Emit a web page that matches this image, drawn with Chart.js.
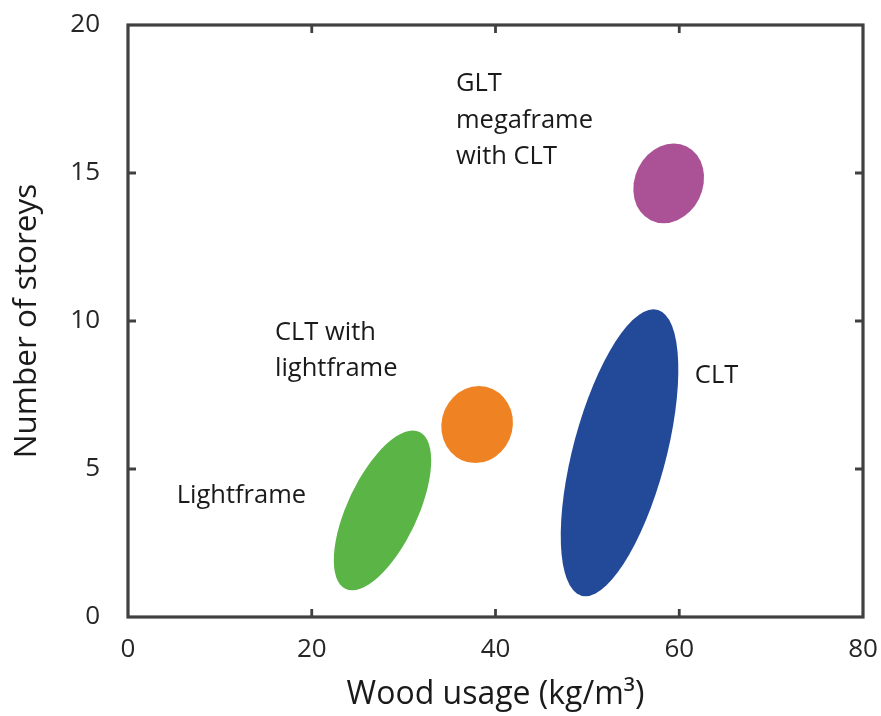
<!DOCTYPE html>
<html>
<head>
<meta charset="utf-8">
<script src="https://cdn.jsdelivr.net/npm/chart.js@4"></script>
<style>
  html, body { margin: 0; padding: 0; background: #ffffff; }
  #wrap { width: 881px; height: 716px; }
</style>
</head>
<body>
<div id="wrap"><canvas id="c" width="881" height="716"></canvas></div>
<script>
// ---- data ----
const regionNames = ['Lightframe', 'CLT with lightframe', 'CLT', 'GLT megaframe with CLT'];
const woodMin = [22.4, 34.1, 47.1, 55.0];          // kg/m3
const woodMax = [33.0, 41.9, 59.9, 62.7];          // kg/m3
const storeysMin = [0.9, 5.2, 0.7, 13.3];
const storeysMax = [6.3, 7.8, 10.4, 16.0];
const woodAtMaxStoreys = [31.0, 38.2, 57.2, 59.4]; // wood usage where the region peaks
const regionColors = ['#5bb446', '#ef8323', '#224a99', '#ab5297'];

const labelLines = [['Lightframe'], ['CLT with', 'lightframe'], ['CLT'], ['GLT', 'megaframe', 'with CLT']];
const labelWood = [5.3, 16.0, 61.7, 35.7];
const labelStoreys = [3.84, 9.36, 7.92, 17.77];

const xTicks = [0, 20, 40, 60, 80];
const yTicks = [0, 5, 10, 15, 20];

const FONT = "'Open Sans', 'DejaVu Sans', sans-serif";
const AXIS = '#404040';

const regionPlugin = {
  id: 'regions',
  beforeDatasetsDraw(chart) {
    const ctx = chart.ctx, xs = chart.scales.x, ys = chart.scales.y;
    regionNames.forEach((name, i) => {
      const px0 = xs.getPixelForValue(woodMin[i]);
      const px1 = xs.getPixelForValue(woodMax[i]);
      const pyTop = ys.getPixelForValue(storeysMax[i]);
      const pyBot = ys.getPixelForValue(storeysMin[i]);
      const cx = (px0 + px1) / 2, cy = (pyTop + pyBot) / 2;
      const W = (px1 - px0) / 2, H = (pyBot - pyTop) / 2;
      const dx = xs.getPixelForValue(woodAtMaxStoreys[i]) - cx;
      const L = Math.sqrt(Math.max(W * W - dx * dx, 1));
      ctx.save();
      ctx.translate(cx, cy);
      ctx.transform(L, 0, dx, -H, 0, 0);
      ctx.beginPath();
      ctx.arc(0, 0, 1, 0, Math.PI * 2);
      ctx.restore();
      ctx.fillStyle = regionColors[i];
      ctx.fill();
    });
    // labels
    ctx.save();
    ctx.fillStyle = '#1a1a1a';
    ctx.font = '25.5px ' + FONT;
    ctx.textAlign = 'left';
    ctx.textBaseline = 'alphabetic';
    labelLines.forEach((lines, i) => {
      const x = xs.getPixelForValue(labelWood[i]);
      const y = ys.getPixelForValue(labelStoreys[i]);
      lines.forEach((t, k) => ctx.fillText(t, x, y + k * 36.5));
    });
    ctx.restore();
  },
  afterDraw(chart) {
    const ctx = chart.ctx, a = chart.chartArea, xs = chart.scales.x, ys = chart.scales.y;
    ctx.save();
    ctx.strokeStyle = AXIS;
    ctx.lineWidth = 2.8;
    const tl = 8;
    ctx.beginPath();
    xTicks.forEach(v => {
      if (v === xTicks[0] || v === xTicks[xTicks.length - 1]) return;
      const x = xs.getPixelForValue(v);
      ctx.moveTo(x, a.bottom); ctx.lineTo(x, a.bottom - tl);
      ctx.moveTo(x, a.top); ctx.lineTo(x, a.top + tl);
    });
    yTicks.forEach(v => {
      if (v === yTicks[0] || v === yTicks[yTicks.length - 1]) return;
      const y = ys.getPixelForValue(v);
      ctx.moveTo(a.left, y); ctx.lineTo(a.left + tl, y);
      ctx.moveTo(a.right, y); ctx.lineTo(a.right - tl, y);
    });
    ctx.stroke();
    ctx.lineWidth = 3.2;
    ctx.strokeRect(a.left, a.top, a.right - a.left, a.bottom - a.top);
    ctx.restore();
  }
};

new Chart(document.getElementById('c'), {
  type: 'scatter',
  data: {
    datasets: regionNames.map((n, i) => ({
      label: n,
      data: [{ x: (woodMin[i] + woodMax[i]) / 2, y: (storeysMin[i] + storeysMax[i]) / 2 }],
      pointRadius: 0,
      backgroundColor: regionColors[i]
    }))
  },
  options: {
    responsive: false,
    animation: false,
    devicePixelRatio: 1,
    layout: { padding: { left: 0, right: 18, top: 25, bottom: 0 } },
    plugins: { legend: { display: false }, tooltip: { enabled: false } },
    scales: {
      x: {
        type: 'linear', min: 0, max: 80,
        afterFit(s) { s.height = 99; s.paddingLeft = 0; s.paddingRight = 0; },
        afterBuildTicks(s) { s.ticks = xTicks.map(v => ({ value: v })); },
        grid: { display: false, drawTicks: false },
        border: { display: false },
        ticks: { color: '#262626', font: { family: FONT, size: 26 }, padding: 17, maxRotation: 0 },
        title: { display: true, text: 'Wood usage (kg/m³)', color: '#1a1a1a', font: { family: FONT, size: 32 }, padding: { top: 0, bottom: 2 } }
      },
      y: {
        type: 'linear', min: 0, max: 20,
        afterFit(s) { s.width = 128; s.paddingTop = 0; s.paddingBottom = 0; },
        afterBuildTicks(s) { s.ticks = yTicks.map(v => ({ value: v })); },
        grid: { display: false, drawTicks: false },
        border: { display: false },
        ticks: { color: '#262626', font: { family: FONT, size: 26 }, padding: 28 },
        title: { display: true, text: 'Number of storeys', color: '#1a1a1a', font: { family: FONT, size: 31.5 }, padding: { top: 8, bottom: 0 } }
      }
    }
  },
  plugins: [regionPlugin]
});
</script>
</body>
</html>
